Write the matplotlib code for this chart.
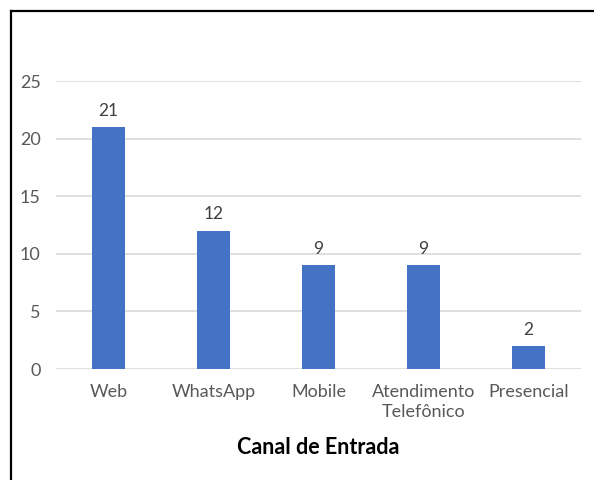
import matplotlib
matplotlib.use("Agg")
from matplotlib import pyplot as plt
from matplotlib.lines import Line2D
import numpy as np

categorias = ["Web", "WhatsApp", "Mobile", "Atendimento\nTelefônico", "Presencial"]
valores = [21, 12, 9, 9, 2]
y_ticks = [0, 5, 10, 15, 20, 25]

cor_barra = "#4472C4"
cor_texto = "#595959"

plt.rcParams['font.family'] = ['Lato', 'DejaVu Sans']

fig = plt.figure(figsize=(5.94, 4.80), dpi=100)
ax = fig.add_axes([56/594, 1 - 369/480, 525/594, 288/480])

x = np.arange(len(categorias))
bars = ax.bar(x, valores, width=0.31, color=cor_barra, zorder=3)

for b, v in zip(bars, valores):
    ax.annotate(str(v), (b.get_x() + b.get_width()/2, v), xytext=(0, 6),
                textcoords="offset points", ha="center", va="bottom",
                fontsize=12.5, color="#404040")

ax.set_xlim(-0.5, len(categorias) - 0.5)
ax.set_ylim(0, 25)
ax.set_yticks(y_ticks)
ax.set_xticks(x)
ax.set_xticklabels(categorias, linespacing=1.35)
ax.tick_params(axis="both", length=0, labelsize=13, labelcolor=cor_texto)
ax.tick_params(axis="y", pad=11)
ax.tick_params(axis="x", pad=10.5)
ax.grid(axis="y", color="#d9d9d9", linewidth=1.2, zorder=0)
for s in ax.spines.values():
    s.set_visible(False)

ax.set_xlabel("Canal de Entrada", fontsize=15.5, fontweight="bold", color="black", labelpad=12)

# moldura (só esquerda e topo aparecem no recorte)
fig.add_artist(Line2D([10.5/594, 10.5/594], [0, 1 - 10.5/480], color="black", linewidth=1.6))
fig.add_artist(Line2D([10.5/594, 1], [1 - 10.5/480, 1 - 10.5/480], color="black", linewidth=1.6))

fig.savefig("out.png", dpi=100)
